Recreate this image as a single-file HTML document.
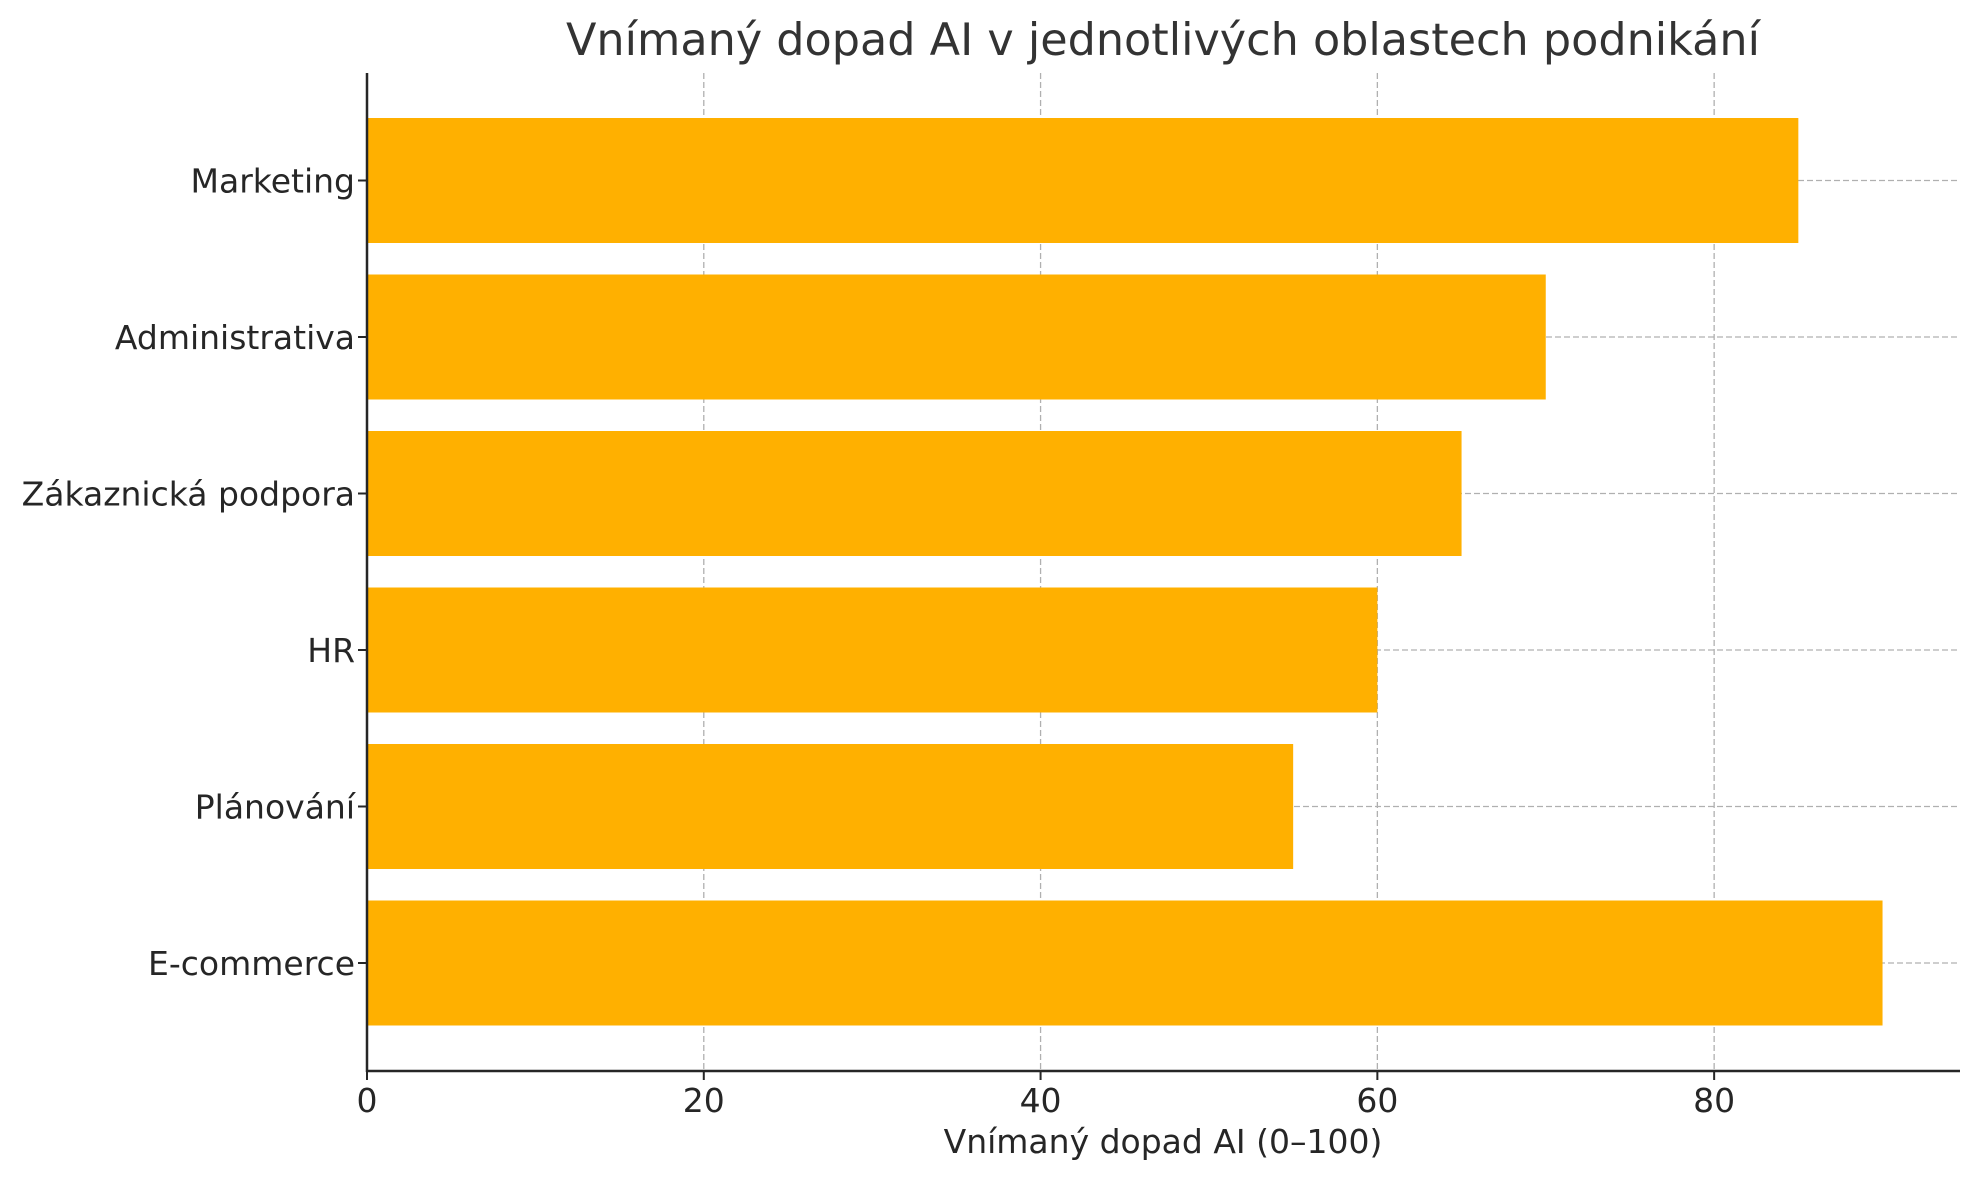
<!DOCTYPE html>
<html><head><meta charset="utf-8"><style>
html,body{margin:0;padding:0;background:#fff;}
svg{display:block;font-family:"DejaVu Sans","Liberation Sans",sans-serif;}
</style></head><body>
<svg id="chart" width="1979" height="1180" viewBox="0 0 1979 1180">
<text x="1163" y="55" font-size="44.5" fill="#333" text-anchor="middle">Vnímaný dopad AI v jednotlivých oblastech podnikání</text>
<g id="grid"></g><g id="bars"></g><g id="axes"></g>
<text x="1163" y="1153" font-size="33" fill="#262626" text-anchor="middle">Vnímaný dopad AI (0–100)</text>
</svg>
<script>
const categories = ["Marketing","Administrativa","Zákaznická podpora","HR","Plánování","E-commerce"];
const values = [85,70,65,60,55,90];
const xTicks = [0,20,40,60,80];
const NS="http://www.w3.org/2000/svg";
const L=367,R=1960,T=73,B=1071,xMax=94.6;
function xs(v){return L+(v/xMax)*(R-L);}
function yc(i){return 180.5+i*156.5;}
const bh=125;
function mk(tag,attrs,parent){const e=document.createElementNS(NS,tag);for(const k in attrs)e.setAttribute(k,attrs[k]);parent.appendChild(e);return e;}
const grid=document.getElementById('grid'),bars=document.getElementById('bars'),axes=document.getElementById('axes');
xTicks.forEach(t=>{
  const g=mk('line',{x1:xs(t),x2:xs(t),y1:T,y2:B,stroke:'#b0b0b0','stroke-width':1.3,'stroke-dasharray':'6,3'},grid);
  
  
  const tk=mk('line',{x1:xs(t),x2:xs(t),y1:B,y2:B+9,stroke:'#262626','stroke-width':2},axes);
  
  
  const lb=mk('text',{x:xs(t),y:B+41,'font-size':33,fill:'#262626','text-anchor':'middle'},axes);
  lb.textContent=t;
  
  
});
categories.forEach((c,i)=>{
  const g=mk('line',{x1:L,x2:R,y1:yc(i),y2:yc(i),stroke:'#b0b0b0','stroke-width':1.3,'stroke-dasharray':'6,3'},grid);
  
  
  const b=mk('rect',{x:L,y:yc(i)-bh/2,width:xs(values[i])-L,height:bh,fill:'#ffb000'},bars);
  
  
  const tk=mk('line',{x1:L-9,x2:L,y1:yc(i),y2:yc(i),stroke:'#262626','stroke-width':2},axes);
  
  
  const lb=mk('text',{x:L-12,y:yc(i)+12,'font-size':33,fill:'#262626','text-anchor':'end'},axes);
  lb.textContent=c;
  
  
});
const ax=mk('line',{x1:L,x2:L,y1:T,y2:B+1,stroke:'#262626','stroke-width':2.5},axes);


const bx=mk('line',{x1:L-1,x2:R,y1:B,y2:B,stroke:'#262626','stroke-width':2.5},axes);


</script>
</body></html>
